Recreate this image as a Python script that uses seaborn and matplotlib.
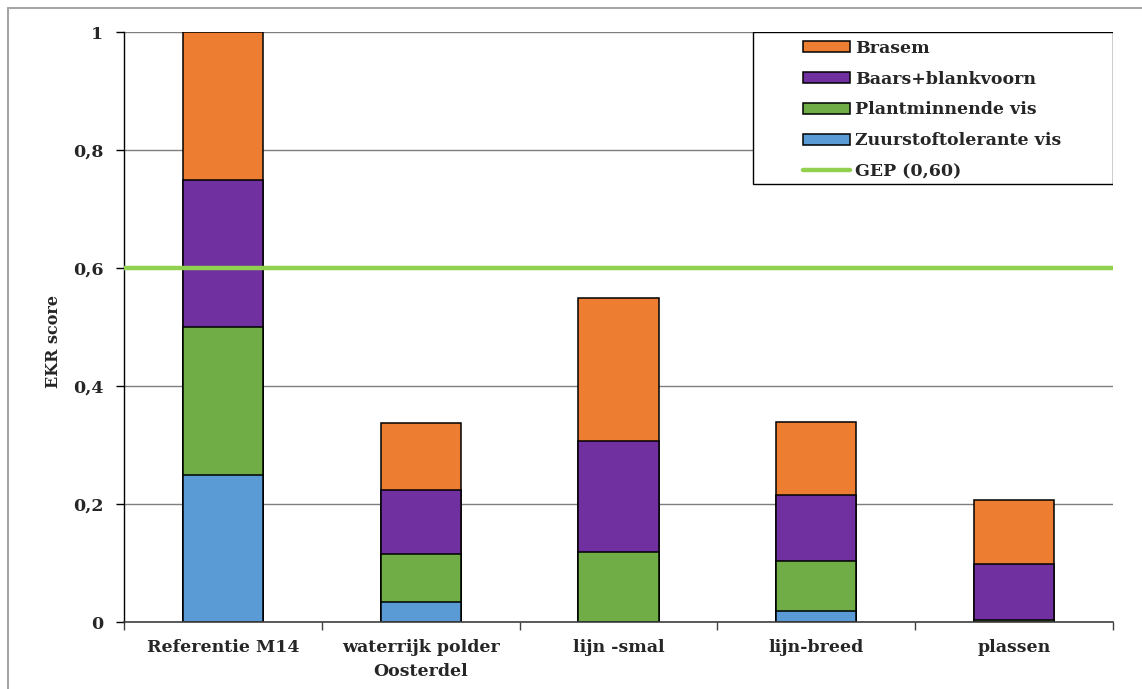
import matplotlib
matplotlib.use("Agg")
import matplotlib.pyplot as plt
import seaborn as sns
import numpy as np
from matplotlib.patches import Patch, Rectangle
from matplotlib.lines import Line2D
from matplotlib.ticker import FuncFormatter, FixedLocator

# EKR scores per visgroep for each watertype
categories = ["Referentie M14", "waterrijk polder\nOosterdel", "lijn -smal", "lijn-breed", "plassen"]
zuurstoftolerante = [0.25, 0.034, 0.0, 0.018, 0.0]
plantminnende = [0.25, 0.081, 0.119, 0.085, 0.004]
baars_blankvoorn = [0.25, 0.109, 0.188, 0.112, 0.094]
brasem = [0.25, 0.114, 0.242, 0.124, 0.108]
gep_value = 0.60
y_ticks = [0, 0.2, 0.4, 0.6, 0.8, 1.0]

series_names = ["Zuurstoftolerante vis", "Plantminnende vis", "Baars+blankvoorn", "Brasem"]
series_colors = ["#5B9BD5", "#70AD47", "#7030A0", "#ED7D31"]
gep_color = "#92D050"

sns.set_style("white")
plt.rcParams["font.family"] = ["DejaVu Serif"]
plt.rcParams["font.weight"] = "bold"

fig = plt.figure(figsize=(11.42, 6.89), dpi=100)
ax = fig.add_axes([0.10858, 0.09724, 0.86603, 0.85631])

# cumulative tops of the stacked segments; tallest drawn first
stack = np.cumsum([zuurstoftolerante, plantminnende, baars_blankvoorn, brasem], axis=0)
for i in range(len(series_names) - 1, -1, -1):
    sns.barplot(x=categories, y=stack[i], order=categories, color=series_colors[i],
                saturation=1, width=0.405, edgecolor="black", linewidth=1.1,
                ax=ax, zorder=2)

ax.axhline(gep_value, color=gep_color, lw=3.2, zorder=3)

ax.set_xlim(-0.5, len(categories) - 0.5)
ax.set_ylim(0, 1)
ax.yaxis.set_major_locator(FixedLocator(y_ticks))
ax.yaxis.set_major_formatter(FuncFormatter(lambda v, p: f"{v:g}".replace(".", ",")))
ax.yaxis.grid(True, color="#7f7f7f", lw=1)
ax.xaxis.grid(False)
ax.set_axisbelow(True)

ax.set_xticks(range(len(categories)))
ax.set_xticklabels(categories, fontsize=12.5, fontweight="bold", linespacing=1.55)
ax.set_xticks(np.arange(-0.5, len(categories), 1.0), minor=True)
ax.tick_params(axis="x", which="major", length=0, pad=12)
ax.tick_params(axis="x", which="minor", length=6, width=1, color="#404040", direction="out", bottom=True)
ax.tick_params(axis="y", which="major", length=6, width=1, color="black", direction="out", pad=9,
               labelsize=12.5, left=True)
for lbl in ax.get_yticklabels():
    lbl.set_fontweight("bold")

ax.set_xlabel("")
ax.set_ylabel("EKR score", fontsize=11.5, fontweight="bold")
ax.yaxis.set_label_coords(-0.0627, 0.476)

for side in ["top", "right"]:
    ax.spines[side].set_visible(False)
ax.spines["left"].set_color("black")
ax.spines["left"].set_linewidth(1)
ax.spines["bottom"].set_color("#404040")
ax.spines["bottom"].set_linewidth(1.2)

# legend with its own rectangular frame
ax.add_patch(Rectangle((0.636, 0.7424), 0.364, 0.2576, transform=ax.transAxes,
                       facecolor="white", edgecolor="black", lw=1, zorder=4))
handles = [Patch(facecolor=series_colors[i], edgecolor="black", lw=1.1) for i in range(3, -1, -1)]
handles.append(Line2D([], [], color=gep_color, lw=3.2))
labels = [series_names[i] for i in range(3, -1, -1)] + ["GEP (0,60)"]
leg = ax.legend(handles, labels, loc="upper left", bbox_to_anchor=(0.6866, 0.9864),
                frameon=False, borderpad=0, borderaxespad=0, handlelength=2.7,
                handleheight=0.6, handletextpad=0.3, labelspacing=0.79,
                prop=dict(weight="bold", size=12.5))
leg.set_zorder(5)

# outer chart border
fig.add_artist(Line2D([8 / 1142, 1], [1 - 8 / 689] * 2, transform=fig.transFigure,
                      color="#a6a6a6", lw=1.5))
fig.add_artist(Line2D([8 / 1142] * 2, [0, 1 - 8 / 689], transform=fig.transFigure,
                      color="#a6a6a6", lw=1.5))

fig.savefig("out.png", dpi=100)
